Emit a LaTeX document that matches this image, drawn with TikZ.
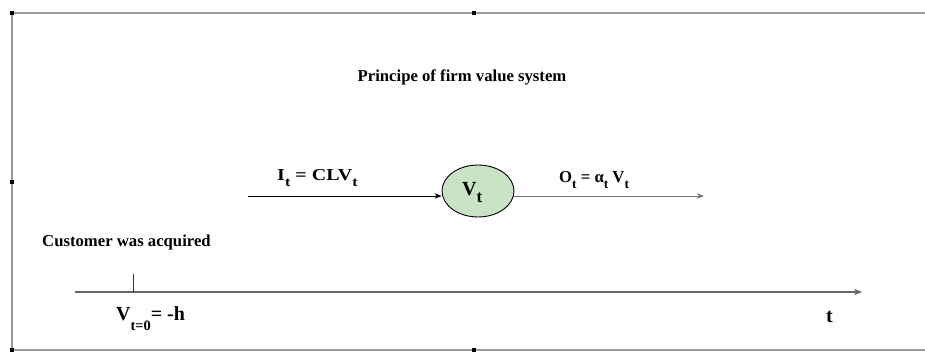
\documentclass[tikz,border=0pt]{standalone}
\usepackage{fontspec}
\setmainfont{Liberation Serif}
\usetikzlibrary{arrows.meta,shapes.geometric}
% subscript: #1 = scale, #2 = drop, #3 = text
\newcommand{\lowsub}[3]{\raisebox{-#2}{\scalebox{#1}{#3}}}
\newcommand{\wider}[2]{\scalebox{#1}[1]{#2}}
\begin{document}
\begin{tikzpicture}[x=1pt,y=-1pt,
  lbl/.style={font=\bfseries\fontsize{16.7}{19}\selectfont, inner sep=0pt, anchor=base west},
  big/.style={font=\bfseries\fontsize{20}{22}\selectfont, inner sep=0pt, anchor=base west},
  frameline/.style={draw=black!40, line width=1.8pt},
  handle/.style={fill=black, minimum size=4.5pt, inner sep=0pt, draw=none},
  flow/.style={-{Stealth[length=7pt,width=5.5pt]}, line width=0.7pt},
  axis/.style={-{Stealth[length=8pt,width=6.5pt]}, draw=black!60, line width=2pt}]
\useasboundingbox (0,0) rectangle (925,352);
% frame
\coordinate (tl) at (12,13);
\coordinate (tr) at (925,13);
\coordinate (bl) at (12,350);
\coordinate (br) at (925,350);
\draw[frameline] (tr) -- (tl) -- (bl) -- (br);
\node[handle] (h1) at (12,13) {};
\node[handle] (h2) at (474,13) {};
\node[handle] (h3) at (12,182) {};
\node[handle] (h4) at (12,350) {};
\node[handle] (h5) at (474,350) {};
% title
\node[font=\bfseries\fontsize{16.7}{19}\selectfont, inner sep=0pt, anchor=base] (title) at (462,82) {Principe of firm value system};
% central node
\node[draw=black, line width=0.9pt, fill={rgb,255:red,200;green,226;blue,196}, ellipse, minimum width=72pt, minimum height=52pt, inner sep=0pt] (V) at (478,191) {};
\node[big] (Vt) at (462,196) {V\lowsub{0.85}{7pt}{t}};
\coordinate (in) at (248,196);
\coordinate (out) at (704,196);
\draw[flow] (in) -- (V.west |- in);
\draw[flow, draw=black!55] (V.east |- out) -- (out);
\node[lbl] (It) at (277,181) {\wider{1.2}{I\lowsub{0.8}{6pt}{t} = CLV\lowsub{0.8}{6pt}{t}}};
\node[lbl] (Ot) at (559,183) {O\lowsub{0.8}{6pt}{t} = α\lowsub{0.8}{6pt}{t} V\lowsub{0.8}{6pt}{t}};
% timeline
\node[lbl] (cust) at (42,247) {Customer was acquired};
\coordinate (a0) at (75,292);
\coordinate (a1) at (862,292);
\draw[axis] (a0) -- (a1);
\coordinate (tk0) at (133,274);
\coordinate (tk1) at (133,292);
\draw[line width=1pt, draw=black!80] (tk0) -- (tk1);
\node[big] (v0) at (116,320) {V\lowsub{0.72}{10pt}{t=0}= -h};
\node[big] (tlab) at (826,322) {t};
\end{tikzpicture}
\end{document}
